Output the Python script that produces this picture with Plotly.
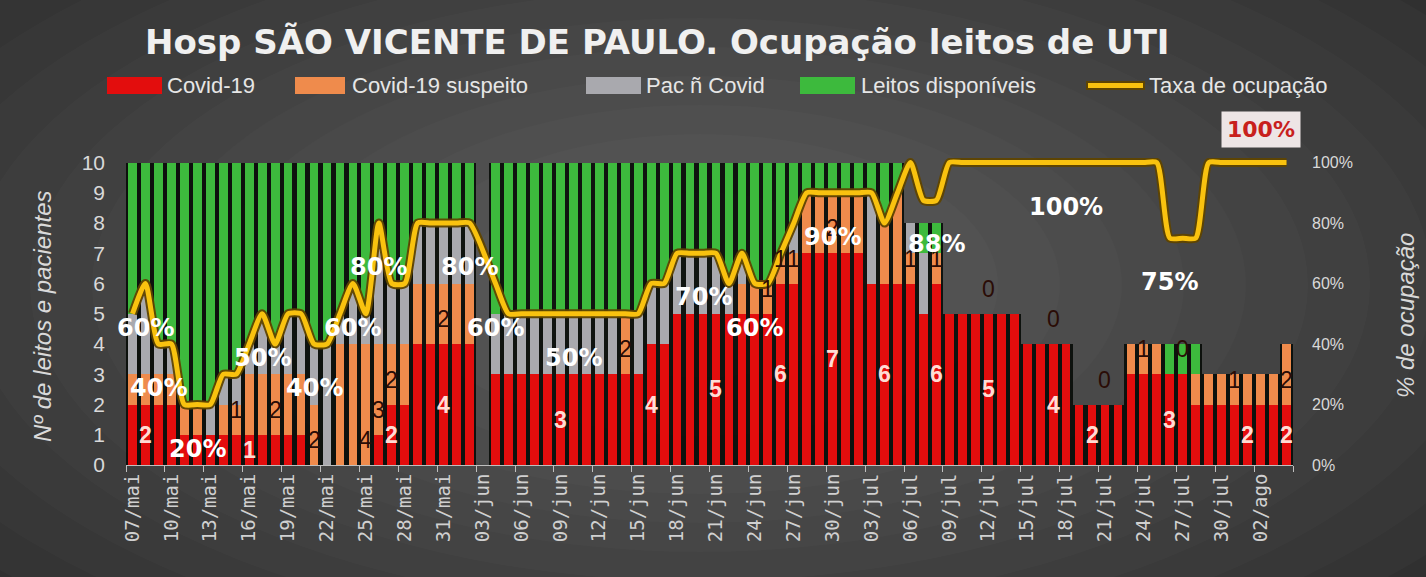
import plotly.graph_objects as go
import pandas as pd

# ---------------- data ----------------
MESES = {5: "mai", 6: "jun", 7: "jul", 8: "ago"}
datas = [f"{d.day:02d}/{MESES[d.month]}" for d in pd.date_range("2020-05-07", "2020-08-04")]

covid = ([2, 2, 2, 2] + [1] * 10 + [0] * 5 + [1] + [2, 2] + [4] * 5 + [None] +
         [3] * 12 + [4, 4] + [5] * 8 + [6, 6] + [7] * 5 + [6, 6, 6, 6] + [5] + [6] +
         [5] * 6 + [4] * 4 + [2] * 4 + [3] * 5 + [2] * 8)

suspeito = ([1, 1, 1, 1] + [1, 1, 0] + [1, 1] + [2, 2, 2, 2, 2] + [2] + [0] + [4, 4, 4] + [3] +
            [2, 2] + [2] * 5 + [None] + [0] * 10 + [2] + [0] + [0] * 7 + [1, 1, 1] + [1, 1] +
            [2] * 5 + [0, 2, 3, 1, 0, 1] + [0] * 14 + [1, 1, 1] + [0, 0] + [1] * 7 + [2])

nao_covid = ([2, 3, 1, 1] + [0, 0, 1] + [1, 1] + [1, 2, 1, 2, 2] + [2] + [4] + [1, 2, 1] + [4] +
             [2, 2] + [2] * 5 + [None] + [2] * 10 + [0] + [2] + [2, 2] + [2, 2, 2, 2] + [1] + [1] +
             [0, 0, 0] + [1] + [0] * 5 + [3, 0, 0, 1, 2, 0] + [0] * 27)

disponiveis = ([5, 4, 6, 6] + [8, 8, 8] + [7, 7] + [6, 5, 6, 5, 5] + [6] + [6] + [5, 4, 5] + [2] +
               [4, 4] + [2] * 5 + [None] + [5] * 10 + [5] + [5] + [4, 4] + [3, 3, 3, 3] + [4] + [3] +
               [4, 4] + [3] + [2] + [1] * 5 + [1, 2, 1, 0, 1, 1] + [0] * 17 + [1, 1, 1] + [0] * 7)

taxa = ([50, 60, 40, 40, 20, 20, 20, 30, 30, 40, 50, 40, 50, 50, 40, 40, 50, 60, 50, 80, 60, 60,
         80, 80, 80, 80, 80, None, 60] + [50] * 11 + [60, 60, 70, 70, 70, 70, 60, 70, 60, 60, 70, 80] +
        [90] * 6 + [80, 90, 100, 87.5, 87.5] + [100] * 17 + [75, 75, 75] + [100] * 7)

# points carrying data labels
rotulos_covid = [1, 9, 20, 24, 33, 40, 45, 50, 54, 58, 62, 66, 71, 74, 80, 86, 89]
rotulos_suspeito = [8, 11, 14, 18, 19, 20, 24, 38, 49, 50, 51, 54, 60, 62, 66, 71, 75, 78, 81, 85, 89]
rotulos_taxa = [1, 2, 5, 10, 14, 17, 19, 26, 28, 34, 44, 48, 54, 62, 72, 80]
rotulo_destaque = 89

nomes = ["Covid-19", "Covid-19 suspeito", "Pac ñ Covid", "Leitos disponíveis", "Taxa de ocupação"]
cores = ["#e30d0d", "#ef8b4c", "#a9a9ae", "#3dba3d", "#f9c20f"]
ticks_pct = [0, 20, 40, 60, 80, 100]

for arr in (covid, suspeito, nao_covid, disponiveis, taxa):
    assert len(arr) == len(datas) == 90

total = [None if c is None else c + s + n + g
         for c, s, n, g in zip(covid, suspeito, nao_covid, disponiveis)]

# ---------------- figure ----------------
W, H = 1426, 577
L, R, T, B = 126, 1293, 158, 465
PW, PH = R - L, B - T


def px(x):
    return (x - L) / PW


def py(y):
    return (B - y) / PH


fig = go.Figure()

# dark backdrop behind bars (shadow between bars)
fig.add_trace(go.Bar(x=datas, y=total, width=1.0, marker=dict(color="rgba(6,10,6,0.88)", line_width=0),
                     hoverinfo="skip", showlegend=False, xaxis="x", yaxis="y"))

for nome, cor, vals in zip(nomes[:4], cores[:4], [covid, suspeito, nao_covid, disponiveis]):
    fig.add_trace(go.Bar(x=datas, y=vals, name=nome, marker=dict(color=cor, line_width=0),
                         showlegend=False, xaxis="x", yaxis="y2"))

fig.add_trace(go.Scatter(x=datas, y=taxa, mode="lines", connectgaps=True,
                         line=dict(color="rgba(95,68,0,0.95)", width=9, shape="spline", smoothing=0.6),
                         hoverinfo="skip", showlegend=False, xaxis="x", yaxis="y3"))
fig.add_trace(go.Scatter(x=datas, y=taxa, mode="lines", name=nomes[4], connectgaps=True,
                         line=dict(color=cores[4], width=5, shape="spline", smoothing=0.6),
                         showlegend=False, xaxis="x", yaxis="y3"))

C = dict(xanchor="center", yanchor="middle", showarrow=False)
ann = []
for i in rotulos_covid:
    ann.append(dict(x=datas[i], y=covid[i] / 2, xref="x", yref="y2", text=f"<b>{covid[i]}</b>",
                    font=dict(family="Liberation Sans", size=23, color="#ffdcd4"), **C))
for i in rotulos_suspeito:
    ann.append(dict(x=datas[i], y=covid[i] + 0.82, xref="x", yref="y2", text=f"{suspeito[i]}",
                    font=dict(family="Liberation Sans", size=23, color="#2a0c06"), **C))
for i in rotulos_taxa:
    ann.append(dict(x=datas[i], y=taxa[i], xref="x", yref="y3", yshift=-44, text=f"<b>{round(taxa[i])}%</b>",
                    font=dict(family="DejaVu Sans", size=24, color="#ffffff"), **C))
ann.append(dict(x=datas[rotulo_destaque], y=taxa[rotulo_destaque], xref="x", yref="y3", xshift=-26, yshift=33,
                text=f"<b>{round(taxa[rotulo_destaque])}%</b>",
                font=dict(family="DejaVu Sans", size=22, color="#c8201c"),
                bgcolor="#ede5e5", borderpad=5, **C))

# title
ann.append(dict(x=px(657), y=py(42), xref="paper", yref="paper",
                text="<b>Hosp SÃO VICENTE DE PAULO. Ocupação leitos de UTI</b>",
                font=dict(family="DejaVu Sans", size=34, color="#f0f0f0"), **C))
# axis titles
ann.append(dict(x=0, xshift=-84, y=py(316), xref="paper", yref="paper", textangle=-90,
                text="<i>Nº de leitos e pacientes</i>",
                font=dict(family="Liberation Sans", size=24, color="#d9d9d9"), **C))
ann.append(dict(x=1, xshift=112, y=py(316), xref="paper", yref="paper", textangle=-90,
                text="<i>% de ocupação</i>",
                font=dict(family="Liberation Sans", size=24, color="#d9d9d9"), **C))

# custom legend
leg_sym = [(107, 162), (295, 345), (586, 641), (800, 855), (1086, 1145)]
leg_txt = [165, 350, 644, 859, 1147]
shapes = []

# background radial glow
for k in range(14):
    rx = 980 - k * 62
    ry = 470 - k * 29
    cx, cy = 700, 285
    shapes.append(dict(type="circle", xref="paper", yref="paper", layer="below",
                       x0=px(cx - rx), x1=px(cx + rx), y0=py(cy + ry), y1=py(cy - ry),
                       fillcolor="rgba(255,255,255,0.019)", line_width=0))

for k, ((a, b), xt) in enumerate(zip(leg_sym, leg_txt)):
    if k < 4:
        shapes.append(dict(type="rect", xref="paper", yref="paper", x0=px(a), x1=px(b),
                           y0=py(94), y1=py(77), fillcolor=cores[k], line_width=0))
    else:
        shapes.append(dict(type="line", xref="paper", yref="paper", x0=px(a), x1=px(b),
                           y0=py(85.5), y1=py(85.5), line=dict(color="rgba(95,68,0,0.95)", width=9)))
        shapes.append(dict(type="line", xref="paper", yref="paper", x0=px(a + 2), x1=px(b - 2),
                           y0=py(85.5), y1=py(85.5), line=dict(color=cores[4], width=5)))
    ann.append(dict(x=px(xt), y=py(85.5), xref="paper", yref="paper", xanchor="left", yanchor="middle",
                    showarrow=False, text=nomes[k],
                    font=dict(family="Liberation Sans", size=22, color="#e6e6e6")))

fig.update_layout(
    width=W, height=H, autosize=False,
    margin=dict(l=L, r=W - R, t=T, b=H - B, pad=0),
    paper_bgcolor="#2c2c2c", plot_bgcolor="rgba(0,0,0,0)",
    barmode="stack", bargap=0.32, showlegend=False,
    annotations=ann, shapes=shapes,
    xaxis=dict(type="category", tickmode="linear", tick0=0, dtick=3, tickson="boundaries",
               ticks="outside", ticklen=6, tickcolor="#bfbfbf", showline=True, linecolor="#bfbfbf",
               linewidth=1, tickangle=-90, showgrid=False, range=[-0.5, 89.5],
               tickfont=dict(family="DejaVu Sans Mono", size=19, color="#d0d0d0")),
    yaxis=dict(range=[0, 10.15], tickvals=list(range(11)), showgrid=False, zeroline=False,
               ticks="", ticklabelstandoff=20,
               tickfont=dict(family="Liberation Sans", size=21, color="#d9d9d9")),
    yaxis2=dict(range=[0, 10.15], overlaying="y", visible=False, showgrid=False, zeroline=False),
    yaxis3=dict(range=[0, 101.5], overlaying="y", side="right", tickmode="array", tickvals=ticks_pct,
                ticktext=[f"{v}%" for v in ticks_pct], showgrid=False, zeroline=False, ticks="",
                ticklabelstandoff=18,
                tickfont=dict(family="Liberation Sans", size=16, color="#d9d9d9")),
)

fig.write_html("out.html")
